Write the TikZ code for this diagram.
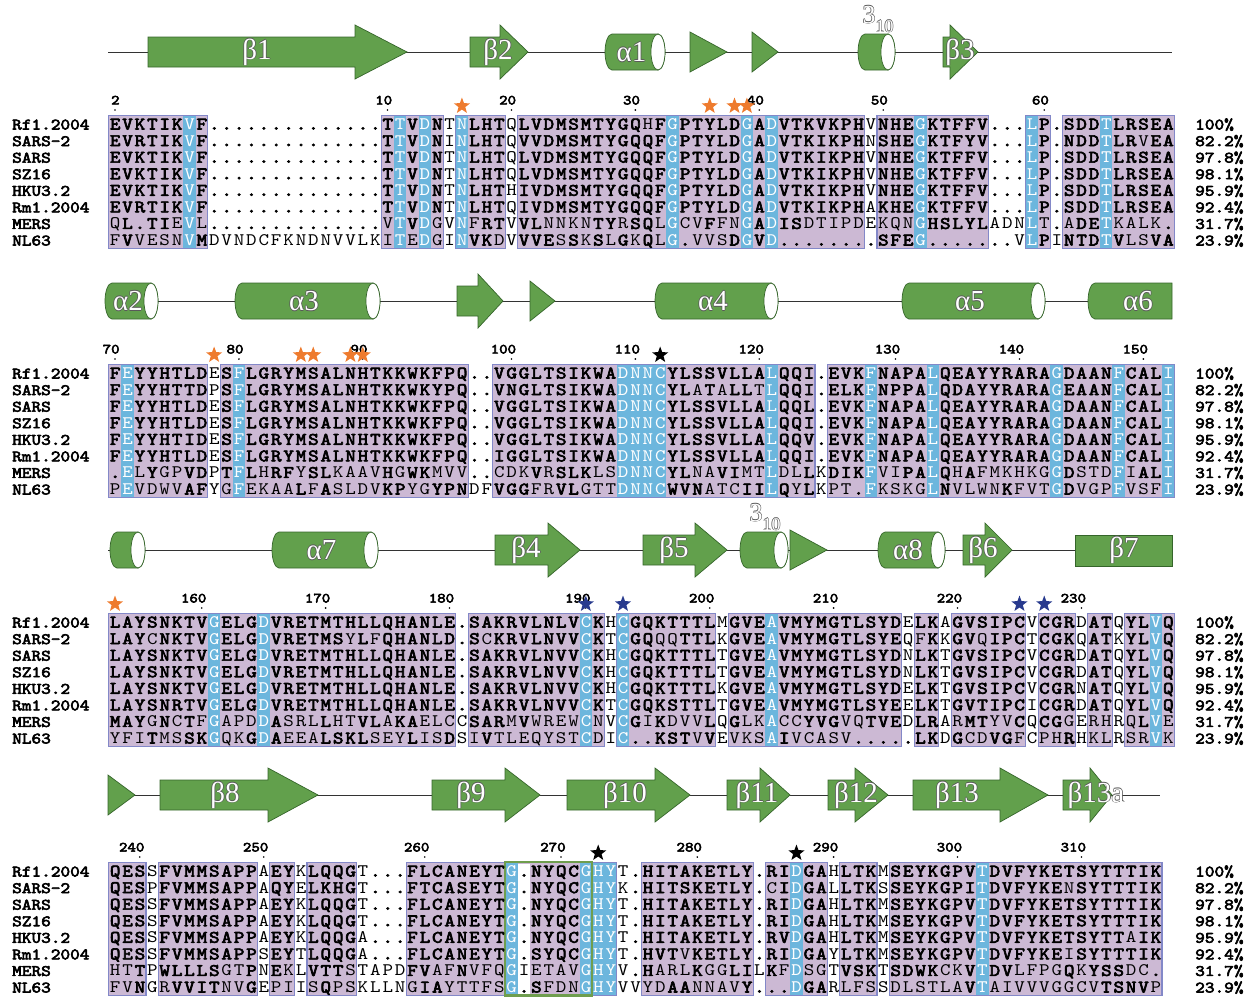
\documentclass[tikz,border=0pt]{standalone}
\usepackage{fontspec}
\usepackage{graphicx}
\usetikzlibrary{shapes.geometric}
\newfontfamily\lblfont{Liberation Serif}
\newfontfamily\seqreg{lmmono10-regular.otf}
\newfontfamily\seqbold{lmmono10-regular.otf}[FakeBold=3.4]
\definecolor{ssgreen}{HTML}{62A04C}
\definecolor{ssedge}{HTML}{35652A}
\definecolor{simfill}{HTML}{CCB9D4}
\definecolor{simframe}{HTML}{8388C8}
\definecolor{idblue}{HTML}{6CB6DD}
\definecolor{starorange}{HTML}{EE7B2E}
\definecolor{starnavy}{HTML}{283A8E}
\definecolor{boxgreen}{HTML}{6F9E4E}

% one residue per column; lower case = plain weight, identical columns in white
\newcommand\pitch{12.39pt}
\makeatletter
\newcount\rescol
\def\seqrow#1{\rescol=0 \edef\seq@str{#1}\expandafter\seq@next\seq@str\relax}
\def\seq@next#1{\ifx#1\relax\else\seq@put#1\expandafter\seq@next\fi}
\def\seq@put#1{\advance\rescol by 1
 \edef\seq@test{\noexpand\in@{,\the\rescol,}{\bluecols}}\seq@test
 \hbox to\pitch{\hss\scalebox{1.14}[1]{%
  \ifin@\color{white}\seqreg\char\uccode`#1\relax
  \else\ifnum\lccode`#1=`#1\relax\seqreg\char\uccode`#1\relax
  \else\seqbold#1\fi\fi}\hss}}
\makeatother
\newcommand\halo[1]{\leavevmode\rlap{\color{black!65}\kern-.7pt#1}\rlap{\color{black!65}\kern.7pt#1}\rlap{\color{black!65}\raisebox{.7pt}{#1}}\rlap{\color{black!65}\raisebox{-.7pt}{#1}}#1}

\tikzset{
  seq/.style={anchor=base west,inner sep=0,font=\seqreg\fontsize{17.6}{17.6}\selectfont},
  tag/.style={anchor=base west,inner sep=0,font=\seqbold\fontsize{16}{16}\selectfont},
  numtag/.style={anchor=base east,inner sep=0,font=\seqbold\fontsize{14}{14}\selectfont},
  ssline/.style={black!80,line width=0.9},
  ssbody/.style={fill=ssgreen,draw=ssedge,line width=0.7},
  sslabel/.style={inner sep=0,text=white,font=\lblfont\fontsize{29}{29}\selectfont},
  resstar/.style={star,star points=5,star point ratio=2.4,inner sep=0,minimum size=17},
}
% block background: block, boxes a/b, identical columns
\newcommand\seqbg[3]{%
 \xdef\bluecols{,#3,}%
 \foreach \a/\b in {#2}
  \fill[simfill] ({115+(\a-1.5)*12.39},{115.5+249*#1}) rectangle ({115+(\b-0.5)*12.39},{248.5+249*#1});
 \foreach \c in {#3}
  \fill[idblue] ({115+(\c-1.5)*12.39},{115.5+249*#1}) rectangle ({115+(\c-0.5)*12.39},{248.5+249*#1});
 \foreach \a/\b in {#2}
  \draw[simframe,line width=1.1] ({115+(\a-1.5)*12.39},{115.5+249*#1}) rectangle ({115+(\b-0.5)*12.39},{248.5+249*#1});
}
\newcommand\sq[3]{\node[seq] (q#1-#2) at (108.8,{129.5+(#2-1)*16.57+249*#1}) {\seqrow{#3}};}
\newcommand\resnum[3]{%
 \node[numtag] (n#1-#3) at ({115+(#2-1)*12.39+4.8},{104.5+249*#1}) {\scalebox{1.15}[1]{#3}};
 \fill ({115+(#2-1)*12.39},{110+249*#1}) circle (0.9);}
\newcommand\resstar[4]{\node[resstar,fill=#4] (#1) at ({115+(#3-1)*12.39},{106+249*#2}) {};}
% strand: name, x1, head, tip, y, label x, label
\newcommand\sstrand[7]{%
 \filldraw[ssbody] (#2,{#5-15}) -- (#3,{#5-15}) -- (#3,{#5-27}) -- (#4,#5) -- (#3,{#5+27}) -- (#3,{#5+15}) -- (#2,{#5+15}) -- cycle;
 \node[sslabel] (#1) at (#6,#5) {\halo{#7}};}
% helix: name, left end, right face, y, label
\newcommand\shelix[5]{%
 \filldraw[ssbody] ({#2+7},{#4-18}) -- (#3,{#4-18}) arc[start angle=-90,end angle=90,x radius=7,y radius=18] -- ({#2+7},{#4+18}) arc[start angle=90,end angle=270,x radius=7,y radius=18] -- cycle;
 \filldraw[ssbody,fill=white] (#3,#4) ellipse[x radius=7,y radius=18];
 \node[sslabel] (#1) at ({(#2+#3)/2},#4) {\halo{#5}};}
\newcommand\stri[3]{\filldraw[ssbody] (#1,{#3-20}) -- (#2,#3) -- (#1,{#3+20}) -- cycle;}
\newcommand\tenlabel{\halo{3}\raisebox{-9pt}{\fontsize{18}{18}\selectfont\halo{10}}}

\begin{document}
\begin{tikzpicture}[x=1pt,y=-1pt]
\useasboundingbox (0,0) rectangle (1255,997);

% secondary structure
\draw[ssline] (108,52) -- (1172,52);
\sstrand{b1}{148}{355}{407}{52}{257}{β1}
\sstrand{b2}{470}{500}{528}{52}{498}{β2}
\shelix{a1}{605}{658}{52}{α1}
\stri{690}{727}{52}
\stri{752}{778}{52}
\shelix{h310a}{858}{888}{52}{}
\node[sslabel,font=\lblfont\fontsize{26}{26}\selectfont] (t310a) at (878,19) {\tenlabel};
\sstrand{b3}{943}{950}{978}{52}{960}{β3}

\draw[ssline] (108,301) -- (1172,301);
\shelix{a2}{105}{151}{301}{α2}
\shelix{a3}{235}{373}{301}{α3}
\sstrand{b3b}{457}{478}{503}{301}{480}{}
\stri{530}{555}{301}
\shelix{a4}{655}{771}{301}{α4}
\shelix{a5}{902}{1038}{301}{α5}
\filldraw[ssbody] (1095,283) -- (1172,283) -- (1172,319) -- (1095,319) arc[start angle=90,end angle=270,x radius=7,y radius=18] -- cycle;
\node[sslabel] (a6) at (1138,301) {\halo{α6}};

\draw[ssline] (108,550) -- (1172,550);
\shelix{a6b}{110}{138}{550}{}
\shelix{a7}{272}{371}{550}{α7}
\sstrand{b4}{495}{548}{580}{550}{526}{β4}
\sstrand{b5}{643}{695}{727}{550}{674}{β5}
\shelix{h310b}{740}{781}{550}{}
\node[sslabel,font=\lblfont\fontsize{26}{26}\selectfont] (t310b) at (765,517) {\tenlabel};
\stri{790}{827}{550}
\shelix{a8}{878}{938}{550}{α8}
\sstrand{b6}{963}{985}{1012}{550}{983}{β6}
\filldraw[ssbody] (1075,535) rectangle (1172,566);
\node[sslabel] (b7) at (1124,550) {\halo{β7}};

\draw[ssline] (108,795) -- (1160,795);
\stri{108}{135}{795}
\sstrand{b8}{160}{268}{318}{795}{225}{β8}
\sstrand{b9}{432}{505}{540}{795}{471}{β9}
\sstrand{b10}{567}{655}{690}{795}{625}{β10}
\sstrand{b11}{727}{760}{790}{795}{757}{β11}
\sstrand{b12}{828}{855}{888}{795}{856}{β12}
\sstrand{b13}{913}{1000}{1048}{795}{957}{β13}
\sstrand{b13a}{1063}{1090}{1112}{795}{1096}{β13a}

% alignment blocks
\seqbg{0}{1/8,23/27,29/32,34/61,63/71,75/76,78/86}{7,24,26,29,46,52,54,66,75,81}
\sq{0}{1}{EVKTIKVF..............TTVDNtNLHTqLVDMSMTYGQhFGPTYLDGADVTKVKPHvNHEGKTFFV...LP.SDDTLRSEA}
\sq{0}{2}{EVRTIKVF..............TTVDNiNLHTqVVDMSMTYGQQFGPTYLDGADVTKIKPHnSHEGKTFYV...LP.NDDTLRvEA}
\sq{0}{3}{EVKTIKVF..............TTVDNtNLHTqLVDMSMTYGQQFGPTYLDGADVTKIKPHvNHEGKTFFV...LP.SDDTLRSEA}
\sq{0}{4}{EVKTIKVF..............TTVDNtNLHTqLVDMSMTYGQQFGPTYLDGADVTKIKPHvNHEGKTFFV...LP.SDDTLRSEA}
\sq{0}{5}{EVKTIKVF..............TTVDNtNLHThIVDMSMTYGQQFGPTYLDGADVTKIKPHvNHEGKTFFV...LP.SDDTLRSEA}
\sq{0}{6}{EVRTIKVF..............TTVDNtNLHTqIVDMSMTYGQQFGPTYLDGADVTKIKPHaKHEGKTFFV...LP.SDDTLRSEA}
\sq{0}{7}{qL.TIeVl..............vTVDgvNfRTvVLnnknTYrSQlGcvFfnGADISdtipdekqnGHSLYLadnLt.aDETkalk.}
\sq{0}{8}{fVvesnVMdvndcfkndnvvlkiTeDgiNVKdvVVEsSkSlGkQlG.vvsDGVD........SFEG.......vLPiNTDTVlsVA}

\seqbg{1}{1/8,10/29,32/57,59/86}{2,11,42,43,44,45,54,62,67,77,82,86}
\sq{1}{1}{FEYYHTLDeSFLGRYMSALNHTKKWKFPQ..VGGLTSIKWADNNCYLSSVLLALQQI.EVKFNAPALQEAYYRARAGDAANFCALI}
\sq{1}{2}{FEYYHTTDpSFLGRYMSALNHTKKWKYPQ..VNGLTSIKWADNNCYLaTaLLtLQQI.ELKFNPPALQDAYYRARAGEAANFCALI}
\sq{1}{3}{FEYYHTLDeSFLGRYMSALNHTKKWKFPQ..VGGLTSIKWADNNCYLSSVLLALQQL.EVKFNAPALQEAYYRARAGDAANFCALI}
\sq{1}{4}{FEYYHTLDeSFLGRYMSALNHTKKWKFPQ..VGGLTSIKWADNNCYLSSVLLALQQI.EVKFNAPALQEAYYRARAGDAANFCALI}
\sq{1}{5}{FEYYHTIDeSFLGRYMSALNHTKKWKFPQ..VGGLTSIKWADNNCYLSSVLLALQQV.EVKFNAPALQEAYYRARAGDAANFCALI}
\sq{1}{6}{FEYYHTLDeSFLGRYMSALNHTKKWKFPQ..IGGLTSIKWADNNCYLSSVLLALQQI.EVKFNAPALQEAYYRARAGDAANFCALI}
\sq{1}{7}{.ElYgpVDpTFLhRFySLkaavHgWKmvv..cdkVrSLKlsDNNCYLnaVImtLdlLkDIKFviPALQhAfmkhkgGDstdFiALI}
\sq{1}{8}{pEvdwvAFygFekaaLfAsldvKPygYPNdfVGGfrVLgttDNNCWVNatcIILQyLkpt.FkskgLNvlwnKfvtGDvgpFvsfI}

\seqbg{2}{1/28,30/40,42/49,51/64,66/67,69/74,76/78,80/81,83/86}{9,13,39,42,54,85}
\sq{2}{1}{LAYSNKTVGELGDVRETMTHLLQHANLE.SAKRVLNLVCKhCGQKTTTLmGVEAVMYMGTLSYDeLKaGVSIPCvCGRdATqYLVQ}
\sq{2}{2}{LAYcNKTVGELGDVRETMSyLfQHANLD.ScKRVLNVVCKtCGQqqTTLkGVEAVMYMGTLSYEqfKkGVqIPCtCGKqATkYLVQ}
\sq{2}{3}{LAYSNKTVGELGDVRETMTHLLQHANLE.SAKRVLNVVCKhCGQKTTTLtGVEAVMYMGTLSYDnLKtGVSIPCvCGRdATqYLVQ}
\sq{2}{4}{LAYSNKTVGELGDVRETMTHLLQHANLE.SAKRVLNVVCKhCGQKTTTLtGVEAVMYMGTLSYDnLKtGVSIPCvCGRdATqYLVQ}
\sq{2}{5}{LAYSNKTVGELGDVRETMTHLLQHANLE.SAKRVLNVVCKhCGQKTTTLkGVEAVMYMGTLSYDeLKtGVSIPCvCGRnATqYLVQ}
\sq{2}{6}{LAYSNRTVGELGDVRETMTHLLQHANLE.SAKRVLNVVCKtCGQKSTTLtGVEAVMYMGTLSYEeLKtGVTIPCiCGRdATqYLVQ}
\sq{2}{7}{MAYgNcTfGapdDAsrlLhtVLaKAelccSARmVwrewCnvCGiKdvvLqGlkAccYVGvqTVEdLRarMTyvCqCGgerhrqLVe}
\sq{2}{8}{yfiTmsSKGqkGDAeeaLSKLseyLisDsiVtleqystCdiC..KSTvVevksAIvcasv.....LKdGcdVGfcphRhklrsrVk}

\seqbg{3}{1/3,5/12,14/15,17/20,25/41,44/52,54/58,60/62,64/85}{33,39,40,41,56,71}
\fill[white] ({115+32.5*12.39},{116.5+747}) rectangle ({115+33.5*12.39},{247.5+747});
\draw[boxgreen,line width=2.2] ({115+31.5*12.39},862) rectangle ({115+38.5*12.39},995.5);
\sq{3}{1}{QESsFVMMSAPPaEYkLQQGt...FLCANEYTG.NYQCGHYt.HITAKETLY.RIDGAhLTKmSEYKGPVTDVFYKETSYTTTIK}
\sq{3}{2}{QESpFVMMSAPPaQYeLKHGt...FTCASEYTG.NYQCGHYk.HITSKETLY.cIDGAlLTKsSEYKGPITDVFYKEnSYTTTIK}
\sq{3}{3}{QESsFVMMSAPPaEYkLQQGt...FLCANEYTG.NYQCGHYt.HITAKETLY.RIDGAhLTKmSEYKGPVTDVFYKETSYTTTIK}
\sq{3}{4}{QESsFVMMSAPPaEYkLQQGt...FLCANEYTG.NYQCGHYt.HITAKETLY.RIDGAhLTKmSEYKGPVTDVFYKETSYTTTIK}
\sq{3}{5}{QESsFVMMSAPPaEYkLQQGa...FLCANEYTG.NYQCGHYt.HITAKETLY.RVDGAhLTKmSEYKGPVTDVFYKETSYTTaIK}
\sq{3}{6}{QESsFVMMSAPPsEYtLQQGa...FLCANEYTG.SYQCGHYt.HVTvKETLY.RIDGAyLTKmSEYKGPVTDVFYKEiSYTTTIK}
\sq{3}{7}{htTpWLLLSgtPnEklVTTstapdFVafNvfqGietavGHYv.HarlKggLIlKfDsgtVSKtSDWKckVTDVlfpgQkYSSdc.}
\sq{3}{8}{fvNgrVVITnvGepiisQpskllngIAyttfsG.SfdnGHYvvydAAnnavY...DGArlfssdlstlaVTaivvvggcvTSNVp}

% names and identities
\foreach \b in {0,...,3}
 \foreach \n/\p [count=\r] in {Rf1.2004/100,SARS-2/82.2,SARS/97.8,SZ16/98.1,HKU3.2/95.9,Rm1.2004/92.4,MERS/31.7,NL63/23.9}{
  \node[tag] (nm\b-\r) at (12,{129.5+(\r-1)*16.57+249*\b}) {\scalebox{1.15}[1]{\n}};
  \node[tag] (pc\b-\r) at (1195,{129.5+(\r-1)*16.57+249*\b}) {\scalebox{1.15}[1]{\p\%}};}

% residue numbers
\foreach \c/\n in {1/2,23/10,33/20,43/30,53/40,63/50,76/60} {\resnum{0}{\c}{\n}}
\foreach \c/\n in {1/70,11/80,21/90,33/100,43/110,53/120,64/130,74/140,84/150} {\resnum{1}{\c}{\n}}
\foreach \c/\n in {8/160,18/170,28/180,39/190,49/200,59/210,69/220,79/230} {\resnum{2}{\c}{\n}}
\foreach \c/\n in {3/240,13/250,26/260,37/270,48/280,59/290,69/300,79/310} {\resnum{3}{\c}{\n}}

% marked residues
\foreach \c in {29,49,51,52} {\resstar{sa\c}{0}{\c}{starorange}}
\foreach \c in {9,16,17,20,21} {\resstar{sb\c}{1}{\c}{starorange}}
\resstar{sb45}{1}{45}{black}
\resstar{sc1}{2}{1}{starorange}
\foreach \c in {39,42,74,76} {\resstar{sc\c}{2}{\c}{starnavy}}
\foreach \c in {40,56} {\resstar{sd\c}{3}{\c}{black}}
\end{tikzpicture}
\end{document}
